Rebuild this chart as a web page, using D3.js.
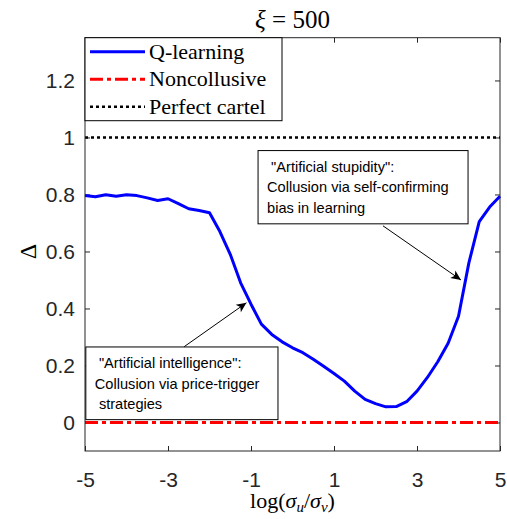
<!DOCTYPE html>
<html>
<head>
<meta charset="utf-8">
<script src="https://cdn.jsdelivr.net/npm/d3@7"></script>
<style>
  body { margin: 0; background: #fff; }
  svg { display: block; }
  .tick text { font-family: "Liberation Sans", Arial, sans-serif; font-size: 21px; fill: #262626; }
  .serif { font-family: "Liberation Serif", "Times New Roman", serif; fill: #000; }
  .note { font-family: "Liberation Sans", Arial, sans-serif; font-size: 14.6px; fill: #000; }
</style>
</head>
<body>
<svg width="507" height="519"></svg>
<script>
// x values: log(sigma_u / sigma_v)
const xs = [-5, -4.75, -4.5, -4.25, -4, -3.75, -3.5, -3.25, -3, -2.75, -2.5, -2.25, -2,
  -1.75, -1.5, -1.25, -1, -0.75, -0.5, -0.25, 0, 0.25, 0.5, 0.75, 1, 1.25, 1.5, 1.75,
  2, 2.25, 2.5, 2.75, 3, 3.25, 3.5, 3.75, 4, 4.25, 4.5, 4.75, 5];
// Q-learning collusion index Delta
const qLearning = [0.796, 0.792, 0.799, 0.794, 0.799, 0.796, 0.788, 0.779, 0.785, 0.768, 0.75, 0.744, 0.736,
  0.67, 0.59, 0.49, 0.415, 0.345, 0.309, 0.283, 0.262, 0.245, 0.222, 0.197, 0.172, 0.145, 0.11, 0.081,
  0.066, 0.055, 0.056, 0.073, 0.11, 0.158, 0.213, 0.278, 0.373, 0.56, 0.705, 0.756, 0.794];
const noncollusive = 0;
const perfectCartel = 1;

const xTicks = [-5, -3, -1, 1, 3, 5];
const yTicks = [0, 0.2, 0.4, 0.6, 0.8, 1, 1.2];

const legendNames = ["Q-learning", "Noncollusive", "Perfect cartel"];

// annotation boxes (data units) and arrows
const notes = [
  { lines: [" \"Artificial stupidity\":", "Collusion via self-confirming", "bias in learning"],
    x0: -0.83, x1: 4.23, y0: 0.954, y1: 0.697, from: [2.18, 0.69], to: [4.06, 0.50] },
  { lines: [" \"Artificial intelligence\":", "Collusion via price-trigger", " strategies"],
    x0: -4.98, x1: -0.35, y0: 0.265, y1: 0.01, from: [-2.61, 0.266], to: [-1.11, 0.42] }
];

const svg = d3.select("svg");
const margin = { top: 37.7, right: 7, bottom: 68, left: 85 };
const width = 507 - margin.left - margin.right;
const height = 519 - margin.top - margin.bottom;

const x = d3.scaleLinear().domain([-5, 5]).range([0, width]);
const y = d3.scaleLinear().domain([-0.1, 1.35]).range([height, 0]);

const g = svg.append("g").attr("transform", `translate(${margin.left},${margin.top})`);

const defs = svg.append("defs");
defs.append("marker")
  .attr("id", "arrow")
  .attr("viewBox", "0 -5 10 10")
  .attr("refX", 10)
  .attr("refY", 0)
  .attr("orient", "auto")
  .attr("markerUnits", "userSpaceOnUse")
  .attr("markerWidth", 12)
  .attr("markerHeight", 10)
  .append("path")
  .attr("d", "M0,-4.5L10,0L0,4.5L2.5,0Z")
  .attr("fill", "#000");

// axes (ticks inside, box on)
const tickLen = 5;
g.append("g")
  .attr("transform", `translate(0,${height})`)
  .call(d3.axisBottom(x).tickValues(xTicks).tickSizeInner(-tickLen).tickSizeOuter(0).tickPadding(21).tickFormat(d => String(d)))
  .call(a => a.select(".domain").remove());
g.append("g")
  .call(d3.axisTop(x).tickValues(xTicks).tickSizeInner(-tickLen).tickSizeOuter(0).tickFormat(""))
  .call(a => a.select(".domain").remove());
g.append("g")
  .call(d3.axisLeft(y).tickValues(yTicks).tickSizeInner(-tickLen).tickSizeOuter(0).tickPadding(10).tickFormat(d => String(d)))
  .call(a => a.select(".domain").remove());
g.append("g")
  .attr("transform", `translate(${width},0)`)
  .call(d3.axisRight(y).tickValues(yTicks).tickSizeInner(-tickLen).tickSizeOuter(0).tickFormat(""))
  .call(a => a.select(".domain").remove());
g.selectAll(".tick line").attr("stroke", "#262626");

// reference lines
g.append("line")
  .attr("x1", x(-5)).attr("x2", x(5))
  .attr("y1", y(perfectCartel)).attr("y2", y(perfectCartel))
  .attr("stroke", "#000").attr("stroke-width", 2.6).attr("stroke-dasharray", "3,3");
g.append("line")
  .attr("x1", x(-5)).attr("x2", x(5))
  .attr("y1", y(noncollusive)).attr("y2", y(noncollusive))
  .attr("stroke", "#ff0000").attr("stroke-width", 3).attr("stroke-dasharray", "13,4,4,4");

// Q-learning curve
const line = d3.line().x((d, i) => x(xs[i])).y(d => y(d));
g.append("path")
  .datum(qLearning)
  .attr("fill", "none")
  .attr("stroke", "#0000ff")
  .attr("stroke-width", 3)
  .attr("stroke-linejoin", "round")
  .attr("d", line);

// frame
g.append("rect")
  .attr("width", width).attr("height", height)
  .attr("fill", "none").attr("stroke", "#262626").attr("stroke-width", 1);

// annotations
notes.forEach(n => {
  g.append("rect")
    .attr("x", x(n.x0)).attr("y", y(n.y0))
    .attr("width", x(n.x1) - x(n.x0)).attr("height", y(n.y1) - y(n.y0))
    .attr("fill", "#fff").attr("stroke", "#000").attr("stroke-width", 1);
  n.lines.forEach((t, i) => {
    g.append("text").attr("class", "note")
      .attr("x", x(n.x0) + 9)
      .attr("y", y(n.y0) + 21 + i * 20.7)
      .attr("xml:space", "preserve")
      .text(t);
  });
  g.append("line")
    .attr("x1", x(n.from[0])).attr("y1", y(n.from[1]))
    .attr("x2", x(n.to[0])).attr("y2", y(n.to[1]))
    .attr("stroke", "#000").attr("stroke-width", 1)
    .attr("marker-end", "url(#arrow)");
});

// legend
const legend = g.append("g");
legend.append("rect")
  .attr("x", 0).attr("y", 0).attr("width", 197).attr("height", 83)
  .attr("fill", "#fff").attr("stroke", "#000").attr("stroke-width", 1);
const legendStyles = [
  { color: "#0000ff", dash: null, w: 3 },
  { color: "#ff0000", dash: "13,4,4,4", w: 3 },
  { color: "#000", dash: "3,3", w: 2.6 }
];
legendNames.forEach((name, i) => {
  const ly = 14 + i * 27.5;
  legend.append("line")
    .attr("x1", 5).attr("x2", 60).attr("y1", ly).attr("y2", ly)
    .attr("stroke", legendStyles[i].color)
    .attr("stroke-width", legendStyles[i].w)
    .attr("stroke-dasharray", legendStyles[i].dash);
  legend.append("text").attr("class", "serif")
    .attr("x", 64).attr("y", ly + 7)
    .attr("font-size", 22)
    .text(name);
});

// title
const title = svg.append("text").attr("class", "serif")
  .attr("x", margin.left + width / 2).attr("y", 28)
  .attr("text-anchor", "middle").attr("font-size", 25);
title.append("tspan").attr("font-style", "italic").text("ξ");
title.append("tspan").text(" = 500");

// x label
const xl = svg.append("text").attr("class", "serif")
  .attr("x", margin.left + width / 2).attr("y", 508)
  .attr("text-anchor", "middle").attr("font-size", 22);
xl.append("tspan").text("log(");
xl.append("tspan").attr("font-style", "italic").text("σ");
xl.append("tspan").attr("font-style", "italic").attr("font-size", 15).attr("dy", 4).text("u");
xl.append("tspan").attr("dy", -4).text("/");
xl.append("tspan").attr("font-style", "italic").text("σ");
xl.append("tspan").attr("font-style", "italic").attr("font-size", 15).attr("dy", 4).text("v");
xl.append("tspan").attr("dy", -4).text(")");

// y label
svg.append("text").attr("class", "serif")
  .attr("transform", `translate(36,${margin.top + y(0.6)}) rotate(-90)`)
  .attr("text-anchor", "middle").attr("font-size", 24)
  .text("Δ");
</script>
</body>
</html>
